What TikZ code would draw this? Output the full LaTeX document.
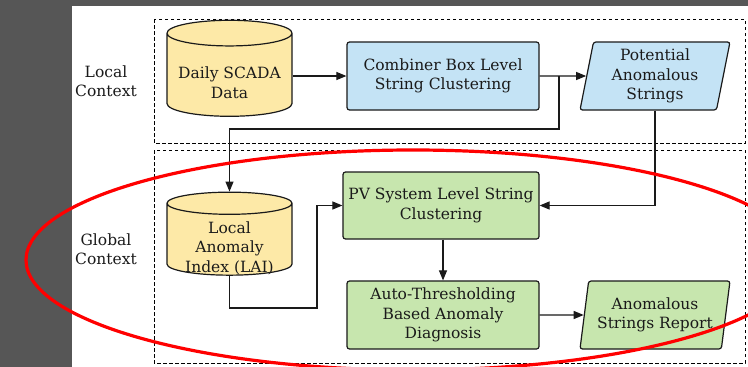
\documentclass[tikz,border=0pt]{standalone}
\usepackage{fontspec}
\setmainfont{DejaVu Serif}
\usetikzlibrary{shapes.geometric,arrows.meta}
\definecolor{framegrey}{HTML}{565656}
\definecolor{datayellow}{HTML}{FDE9A7}
\definecolor{localblue}{HTML}{C4E3F5}
\definecolor{globalgreen}{HTML}{C7E6AE}
\definecolor{inkdark}{HTML}{1A1A1A}
\newcommand{\dblines}[1]{\raisebox{-13pt}[0pt][0pt]{\begin{tabular}{@{}c@{}}#1\end{tabular}}}
\tikzset{
    every node/.style={font=\fontsize{15.5}{19.5}\selectfont, text=inkdark, align=center},
    procbox/.style={draw=inkdark, line width=1.2pt, rounded corners=2.5pt, minimum width=192pt, minimum height=68pt, inner sep=1pt},
    database/.style={cylinder, shape border rotate=90, draw=inkdark, line width=1.2pt, fill=datayellow, aspect=0.25, minimum width=125pt, inner sep=0pt},
    iobox/.style={trapezium, trapezium left angle=76, trapezium right angle=104, trapezium stretches body, draw=inkdark, line width=1.2pt, rounded corners=2.5pt, minimum width=150pt, minimum height=68pt, inner sep=0pt},
    arr/.style={draw=inkdark, line width=1.1pt, -{Triangle[length=10pt,width=8pt]}},
    zone/.style={draw=black, line width=1pt, dash pattern=on 3.5pt off 2.5pt}
}
\begin{document}
\begin{tikzpicture}[x=1pt, y=-1pt]
    % page and frame
    \fill[framegrey] (0,0) rectangle (748,367);
    \fill[white] (72,6) rectangle (748,367);
    \useasboundingbox (0,0) rectangle (748,367);

    % context areas
    \draw[zone] (154,19) rectangle (745,143);
    \draw[zone] (154,150) rectangle (745,363);
    \node (localctx) at (106,81) {Local\\Context};
    \node (globalctx) at (106,249) {Global\\Context};

    % local context
    \node[database, minimum height=96pt] (scada) at (229.5,75) {\dblines{Daily SCADA\\Data}};
    \node[procbox, fill=localblue] (combiner) at (443,76) {Combiner Box Level\\String Clustering};
    \node[iobox, fill=localblue] (potential) at (655,76) {Potential\\Anomalous\\Strings};

    % global context
    \node[database, minimum height=83pt] (lai) at (229.5,239.5) {\dblines{Local\\Anomaly\\Index (LAI)}};
    \node[procbox, fill=globalgreen, minimum width=196pt, minimum height=67pt] (pvsys) at (441,205.5) {PV System Level String\\Clustering};
    \node[procbox, fill=globalgreen] (autothr) at (443,315) {Auto-Thresholding\\Based Anomaly\\Diagnosis};
    \node[iobox, fill=globalgreen] (report) at (655,315) {Anomalous\\Strings Report};

    % connectors
    \coordinate (split) at (559,76);
    \coordinate (dropleft) at (559,129);
    \coordinate (laiout) at (317,308);
    \draw[arr] (scada.east |- combiner.west) -- (combiner.west);
    \draw[arr] (combiner.east) -- (potential.west);
    \draw[arr] (split) -- (dropleft) -| (lai.north);
    \draw[arr] (potential.south) |- (pvsys.east);
    \draw[arr] (lai.south) |- (laiout) |- (pvsys.west);
    \draw[arr] (pvsys.south -| autothr.north) -- (autothr.north);
    \draw[arr] (autothr.east) -- (report.west);

    % highlight
    \draw[red, line width=3.2pt] (413,260) ellipse[x radius=387, y radius=110];
\end{tikzpicture}
\end{document}
